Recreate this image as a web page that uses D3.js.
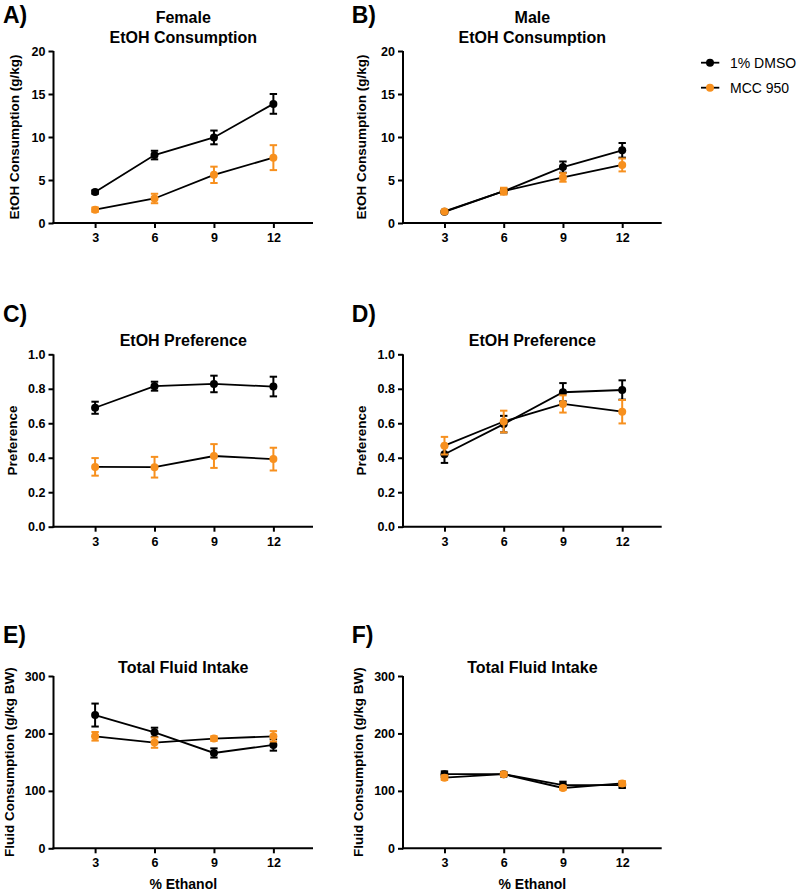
<!DOCTYPE html>
<html><head><meta charset="utf-8">
<script src="https://cdn.jsdelivr.net/npm/d3@7"></script>
<style>
body{margin:0;background:#fff;}
svg{font-family:"Liberation Sans",Arial,sans-serif;}
</style></head>
<body><svg id="c" width="800" height="895"></svg>
<script>
// ---- data ----
const doses = [3, 6, 9, 12];
const seriesNames = ["1% DMSO", "MCC 950"];
const seriesColors = ["#000000", "#f7901e"];

// A) Female EtOH consumption (g/kg)
const femaleConsDMSO = [3.6, 7.9, 9.95, 13.85];
const femaleConsDMSOErr = [0.2, 0.5, 0.8, 1.15];
const femaleConsMCC = [1.55, 2.85, 5.6, 7.6];
const femaleConsMCCErr = [0.25, 0.55, 0.95, 1.45];
// B) Male EtOH consumption (g/kg)
const maleConsDMSO = [1.3, 3.7, 6.5, 8.45];
const maleConsDMSOErr = [0.1, 0.3, 0.65, 0.85];
const maleConsMCC = [1.35, 3.7, 5.3, 6.75];
const maleConsMCCErr = [0.1, 0.4, 0.5, 0.75];
// C) Female preference
const femalePrefDMSO = [0.69, 0.815, 0.828, 0.813];
const femalePrefDMSOErr = [0.035, 0.026, 0.048, 0.057];
const femalePrefMCC = [0.347, 0.345, 0.41, 0.392];
const femalePrefMCCErr = [0.051, 0.06, 0.069, 0.066];
// D) Male preference
const malePrefDMSO = [0.42, 0.595, 0.78, 0.793];
const malePrefDMSOErr = [0.05, 0.048, 0.053, 0.056];
const malePrefMCC = [0.47, 0.61, 0.712, 0.667];
const malePrefMCCErr = [0.051, 0.063, 0.05, 0.068];
// E) Female total fluid intake (g/kg BW)
const femaleFluidDMSO = [232, 202, 166, 180];
const femaleFluidDMSOErr = [20, 8, 8, 10];
const femaleFluidMCC = [195, 184, 191, 195];
const femaleFluidMCCErr = [7.5, 9, 4, 9];
// F) Male total fluid intake (g/kg BW)
const maleFluidDMSO = [129, 129, 110, 110];
const maleFluidDMSOErr = [5, 4, 6, 5];
const maleFluidMCC = [123, 129, 105, 113];
const maleFluidMCCErr = [4, 3, 3, 4];

const consTicks = [0, 5, 10, 15, 20];
const prefTicks = [0, 0.2, 0.4, 0.6, 0.8, 1.0];
const fluidTicks = [0, 100, 200, 300];

// ---- layout ----
const svg = d3.select("#c");
const cols = [{x0: 53.5, x1: 313}, {x0: 403, x1: 661.7}];
const rows = [{top: 51, bot: 223}, {top: 354.3, bot: 526.7}, {top: 676, bot: 848.3}];

const panels = [
  {letter: "A)", col: 0, row: 0, title: ["Female", "EtOH Consumption"], ylab: "EtOH Consumption (g/kg)", ticks: consTicks, fmt: d3.format("d"), dom: [0, 20],
   s: [[femaleConsDMSO, femaleConsDMSOErr], [femaleConsMCC, femaleConsMCCErr]], labOff: 35},
  {letter: "B)", col: 1, row: 0, title: ["Male", "EtOH Consumption"], ylab: "EtOH Consumption (g/kg)", ticks: consTicks, fmt: d3.format("d"), dom: [0, 20],
   s: [[maleConsDMSO, maleConsDMSOErr], [maleConsMCC, maleConsMCCErr]], labOff: 37},
  {letter: "C)", col: 0, row: 1, title: ["EtOH Preference"], ylab: "Preference", ticks: prefTicks, fmt: d3.format(".1f"), dom: [0, 1],
   s: [[femalePrefDMSO, femalePrefDMSOErr], [femalePrefMCC, femalePrefMCCErr]], labOff: 37},
  {letter: "D)", col: 1, row: 1, title: ["EtOH Preference"], ylab: "Preference", ticks: prefTicks, fmt: d3.format(".1f"), dom: [0, 1],
   s: [[malePrefDMSO, malePrefDMSOErr], [malePrefMCC, malePrefMCCErr]], labOff: 37},
  {letter: "E)", col: 0, row: 2, title: ["Total Fluid Intake"], ylab: "Fluid Consumption (g/kg BW)", ticks: fluidTicks, fmt: d3.format("d"), dom: [0, 300],
   s: [[femaleFluidDMSO, femaleFluidDMSOErr], [femaleFluidMCC, femaleFluidMCCErr]], labOff: 40, xlab: "% Ethanol"},
  {letter: "F)", col: 1, row: 2, title: ["Total Fluid Intake"], ylab: "Fluid Consumption (g/kg BW)", ticks: fluidTicks, fmt: d3.format("d"), dom: [0, 300],
   s: [[maleFluidDMSO, maleFluidDMSOErr], [maleFluidMCC, maleFluidMCCErr]], labOff: 40, xlab: "% Ethanol"}
];

const letterY = [23, 321.7, 643.3];
const letterX = [3, 351.7];

panels.forEach(p => {
  const c = cols[p.col], r = rows[p.row];
  const x = d3.scaleLinear().domain([0.9, 14]).range([c.x0, c.x1]);
  const y = d3.scaleLinear().domain(p.dom).range([r.bot, r.top]);
  const g = svg.append("g");

  // letter
  g.append("text").attr("x", letterX[p.col]).attr("y", letterY[p.row])
    .attr("font-size", 23).attr("font-weight", "bold").text(p.letter);

  // title
  const cx = (c.x0 + c.x1) / 2;
  if (p.title.length === 2) {
    g.append("text").attr("x", cx).attr("y", 23).attr("text-anchor", "middle")
      .attr("font-size", 16).attr("font-weight", "bold").text(p.title[0]);
    g.append("text").attr("x", cx).attr("y", 42.7).attr("text-anchor", "middle")
      .attr("font-size", 16).attr("font-weight", "bold").text(p.title[1]);
  } else {
    g.append("text").attr("x", cx).attr("y", p.row === 1 ? 346 : 673).attr("text-anchor", "middle")
      .attr("font-size", 16).attr("font-weight", "bold").text(p.title[0]);
  }

  // axes
  const xa = g.append("g").attr("transform", `translate(0,${r.bot})`)
    .call(d3.axisBottom(x).tickValues(doses).tickSize(5).tickPadding(5).tickSizeOuter(0));
  const ya = g.append("g").attr("transform", `translate(${c.x0},0)`)
    .call(d3.axisLeft(y).tickValues(p.ticks).tickFormat(p.fmt).tickSize(5).tickPadding(3).tickSizeOuter(0));
  [xa, ya].forEach(a => {
    a.select(".domain").attr("stroke", "#000").attr("stroke-width", 2);
    a.selectAll(".tick line").attr("stroke", "#000").attr("stroke-width", 2);
    a.selectAll(".tick text").attr("fill", "#000").attr("font-size", 12.5).attr("font-weight", "bold")
      .attr("font-family", '"Liberation Sans",Arial,sans-serif');
  });
  xa.select(".domain").attr("d", `M${c.x0 - 1},0H${c.x1}`);
  ya.select(".domain").attr("d", `M0,${r.top}V${r.bot + 1}`);

  // y label
  g.append("text").attr("transform", `translate(${c.x0 - p.labOff},${(r.top + r.bot) / 2}) rotate(-90)`)
    .attr("text-anchor", "middle").attr("font-size", 13.5).attr("font-weight", "bold").text(p.ylab);

  if (p.xlab) {
    g.append("text").attr("x", cx).attr("y", 889.3).attr("text-anchor", "middle")
      .attr("font-size", 14).attr("font-weight", "bold").text(p.xlab);
  }

  // series
  const line = d3.line().x(d => x(d.x)).y(d => y(d.v));
  p.s.forEach((s, si) => {
    const pts = doses.map((d, i) => ({x: d, v: s[0][i], e: s[1][i]}));
    const sg = g.append("g");
    sg.append("path").datum(pts).attr("d", line).attr("fill", "none")
      .attr("stroke", "#000").attr("stroke-width", 1.8);
    const col = seriesColors[si];
    const eb = sg.selectAll("g.eb").data(pts).enter().append("g");
    eb.append("line").attr("x1", d => x(d.x)).attr("x2", d => x(d.x))
      .attr("y1", d => y(d.v - d.e)).attr("y2", d => y(d.v + d.e))
      .attr("stroke", col).attr("stroke-width", 2);
    [1, -1].forEach(sg2 => {
      eb.append("line").attr("x1", d => x(d.x) - 3.7).attr("x2", d => x(d.x) + 3.7)
        .attr("y1", d => y(d.v + sg2 * d.e)).attr("y2", d => y(d.v + sg2 * d.e))
        .attr("stroke", col).attr("stroke-width", 2);
    });
    sg.selectAll("circle").data(pts).enter().append("circle")
      .attr("cx", d => x(d.x)).attr("cy", d => y(d.v)).attr("r", 4).attr("fill", col);
  });
});

// legend
const lg = svg.append("g");
seriesNames.forEach((n, i) => {
  const yy = 62.7 + i * 25;
  lg.append("line").attr("x1", 701).attr("x2", 719.3).attr("y1", yy).attr("y2", yy)
    .attr("stroke", "#000").attr("stroke-width", 1.8);
  lg.append("circle").attr("cx", 710).attr("cy", yy).attr("r", 4).attr("fill", seriesColors[i]);
  lg.append("text").attr("x", 730).attr("y", yy + 5).attr("font-size", 14).text(n);
});
</script></body></html>
